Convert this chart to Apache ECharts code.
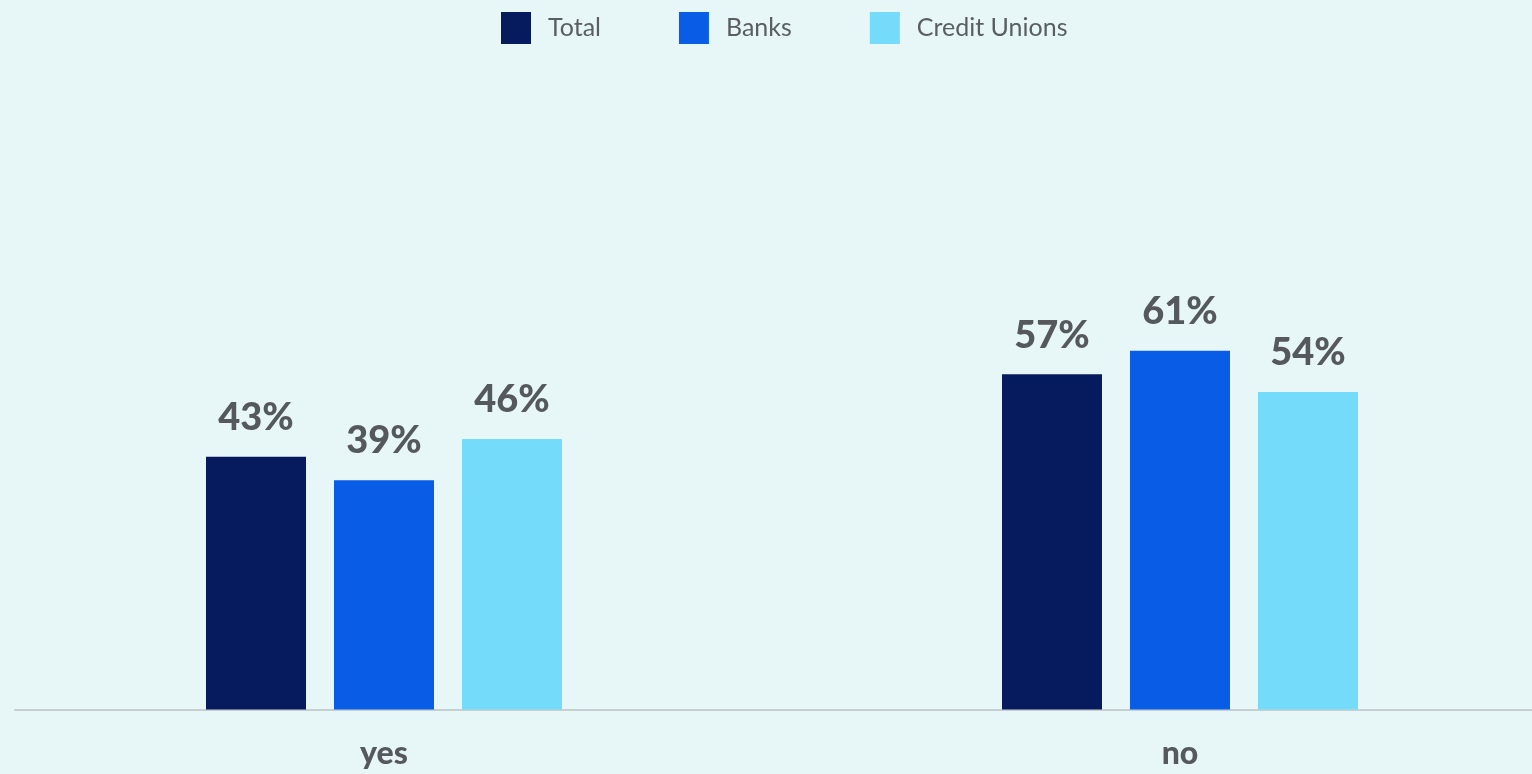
<!DOCTYPE html>
<html><head><meta charset="utf-8">
<script src="https://cdn.jsdelivr.net/npm/echarts@6/dist/echarts.min.js"></script>
<style>html,body{margin:0;padding:0;background:#E7F7F8;}#c{width:1532px;height:774px;}</style>
</head><body><div id="c"></div>
<script>
const categories = ['yes', 'no'];
const seriesNames = ['Total', 'Banks', 'Credit Unions'];
const totalValues = [43, 57];
const banksValues = [39, 61];
const creditUnionValues = [46, 54];
const colors = ['#061A5E', '#085CE5', '#74DBFB'];

const font = 'Lato, "Noto Sans", sans-serif';
const chart = echarts.init(document.getElementById('c'));
const mk = (name, data, color) => ({
  name, type: 'bar', data, xAxisIndex: 0, yAxisIndex: 0,
  barWidth: 100, barGap: '28%',
  itemStyle: { color },
  label: { show: true, position: 'top', distance: 20, formatter: '{c}%',
    color: '#55595D', fontSize: 38, fontWeight: 900, fontFamily: font }
});
chart.setOption({
  backgroundColor: '#E7F7F8',
  animation: false,
  legend: {
    top: 7, left: 496, itemWidth: 30, itemHeight: 32, itemGap: 78,
    icon: 'rect',
    textStyle: { color: '#5A5E62', fontSize: 25, fontFamily: font, padding: [0, 0, 0, 12] },
    data: seriesNames
  },
  grid: [
    { left: -14, width: 1592, top: 121.5, bottom: 64.5, outerBoundsMode: 'none', containLabel: false },
    { left: 15, right: 0, top: 121.5, bottom: 64.5, outerBoundsMode: 'none' }
  ],
  xAxis: [
    { type: 'category', gridIndex: 0, data: categories,
      axisLine: { show: false }, axisTick: { show: false },
      axisLabel: { color: '#55595D', fontSize: 32, fontWeight: 900, fontFamily: font, margin: 28 } },
    { type: 'category', gridIndex: 1, data: categories,
      axisLine: { show: true, lineStyle: { color: '#C8CFD2', width: 2 } },
      axisTick: { show: false }, axisLabel: { show: false } }
  ],
  yAxis: [
    { type: 'value', gridIndex: 0, min: 0, max: 100, show: false, splitLine: { show: false } },
    { type: 'value', gridIndex: 1, min: 0, max: 100, show: false, splitLine: { show: false } }
  ],
  series: [
    mk(seriesNames[0], totalValues, colors[0]),
    mk(seriesNames[1], banksValues, colors[1]),
    mk(seriesNames[2], creditUnionValues, colors[2])
  ]
});
</script></body></html>
